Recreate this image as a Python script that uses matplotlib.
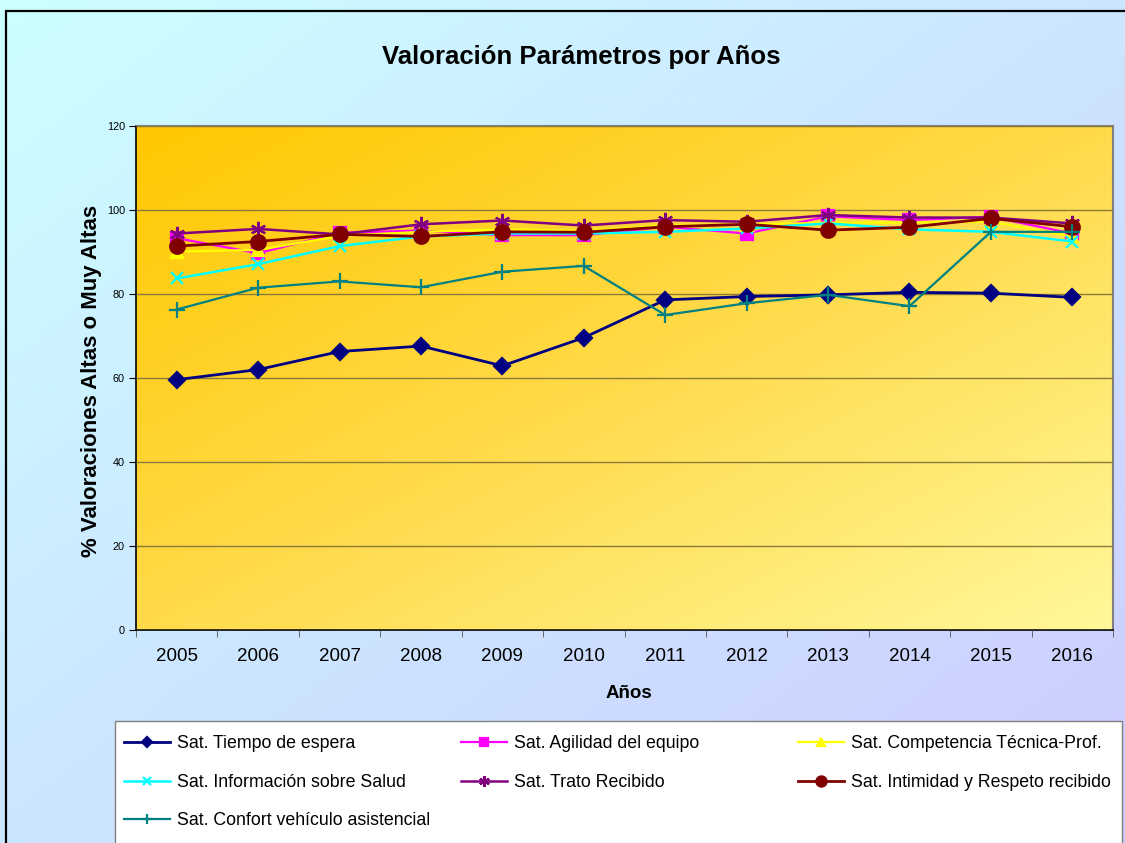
import numpy as np
import matplotlib
matplotlib.use("Agg")
import matplotlib.pyplot as plt
from matplotlib.colors import LinearSegmentedColormap
from matplotlib.patches import Rectangle

plt.rcParams['font.family'] = ['Liberation Sans', 'DejaVu Sans']

years = ['2005', '2006', '2007', '2008', '2009', '2010',
         '2011', '2012', '2013', '2014', '2015', '2016']
tiempo = [59.6, 62.0, 66.3, 67.6, 62.9, 69.6, 78.6, 79.4, 79.8, 80.4, 80.2, 79.2]
agilidad = [93.3, 89.7, 94.6, 95.1, 94.0, 94.0, 96.0, 94.4, 98.5, 97.6, 98.4, 94.4]
competencia = [90.1, 90.5, 93.8, 94.8, 95.4, 95.0, 96.3, 96.5, 97.0, 97.0, 97.2, 93.7]
informacion = [83.7, 87.1, 91.4, 93.7, 94.4, 94.4, 94.8, 95.6, 96.8, 95.4, 94.8, 92.5]
trato = [94.4, 95.5, 94.2, 96.6, 97.5, 96.3, 97.6, 97.2, 98.8, 98.2, 98.2, 96.8]
intimidad = [91.4, 92.5, 94.2, 93.7, 94.8, 94.7, 96.0, 96.6, 95.2, 95.9, 98.0, 96.0]
confort = [76.3, 81.5, 83.0, 81.6, 85.3, 86.7, 75.0, 77.8, 79.8, 77.1, 94.8, 94.8]

labels = ['Sat. Tiempo de espera', 'Sat. Agilidad del equipo',
          'Sat. Competencia Técnica-Prof.', 'Sat. Información sobre Salud',
          'Sat. Trato Recibido', 'Sat. Intimidad y Respeto recibido',
          'Sat. Confort vehículo asistencial']
yticks = [0, 20, 40, 60, 80, 100, 120]

W, H = 1125, 843
fig = plt.figure(figsize=(W / 100, H / 100), dpi=100)

# figure background gradient
bg = fig.add_axes([0, 0, 1, 1], zorder=-10)
gx, gy = np.meshgrid(np.linspace(0, 1, 300), np.linspace(0, 1, 300))
t = (gx + gy) / 2
cm_bg = LinearSegmentedColormap.from_list('bg', ['#CCFFFF', '#CCCCFF'])
bg.imshow(t, cmap=cm_bg, extent=[0, 1, 0, 1], aspect='auto', origin='upper')
bg.set_xlim(0, 1); bg.set_ylim(0, 1)
bg.axis('off')
bg.add_patch(Rectangle((6 / W, -0.05), 1.1, 1 - 11 / H + 0.05, fill=False,
                       edgecolor='black', lw=1.6))

# legend box
bg.add_patch(Rectangle((115 / W, -0.05), (1122 - 115) / W, (843 - 721) / H + 0.05,
                       facecolor='white', edgecolor='#808080', lw=1.0))

ax = fig.add_axes([136 / W, 1 - 630 / H, (1113 - 136) / W, (630 - 126) / H])
cm_pa = LinearSegmentedColormap.from_list('pa', ['#FFC800', '#FFDA4A', '#FFF89A'])
ax.imshow(t, cmap=cm_pa, extent=[0, 1, 0, 1], transform=ax.transAxes,
          aspect='auto', origin='upper', zorder=0)

x = np.arange(len(years))
series = [
    (tiempo, '#000080', 'D', 8, 2.0),
    (agilidad, '#FF00FF', 's', 8, 1.6),
    (competencia, '#FFFF00', '^', 9, 1.6),
    (informacion, '#00FFFF', 'x', 9, 1.8),
    (trato, '#800080', (6, 2, 0), 11, 1.8),
    (intimidad, '#800000', 'o', 10.5, 2.0),
    (confort, '#008080', '+', 11, 1.6),
]
handles = []
for (vals, col, mk, ms, lw), lab in zip(series, labels):
    h, = ax.plot(x, vals, color=col, marker=mk, markersize=ms, lw=lw,
                 markeredgecolor=col, markeredgewidth=1.6, label=lab, zorder=3)
    handles.append(h)

ax.set_xlim(-0.5, len(years) - 0.5)
ax.set_ylim(0, 120)
ax.set_yticks(yticks)
ax.set_yticklabels([str(v) for v in yticks], fontsize=7.8)
ax.set_xticks(x)
ax.set_xticklabels(years, fontsize=13.5)
ax.set_xticks(np.arange(-0.5, len(years)), minor=True)
ax.tick_params(axis='x', which='major', length=0, pad=13)
ax.tick_params(axis='x', which='minor', length=5, direction='out', color='#555555')
ax.tick_params(axis='y', length=5, direction='out', pad=3)
ax.yaxis.grid(True, color='#8c7a3a', lw=1.0, zorder=1)
ax.set_axisbelow(False)
for s in ['top', 'right']:
    ax.spines[s].set_color('#808080')
    ax.spines[s].set_linewidth(1.5)
for s in ['left', 'bottom']:
    ax.spines[s].set_color('black')
    ax.spines[s].set_linewidth(1.2)

fig.text(581 / W, 1 - 57 / H, 'Valoración Parámetros por Años', ha='center',
         va='center', fontsize=18.5, fontweight='bold')
fig.text(92 / W, 1 - 381 / H, '% Valoraciones Altas o Muy Altas', ha='center',
         va='center', rotation=90, fontsize=16, fontweight='bold')
fig.text(629 / W, 1 - 693 / H, 'Años', ha='center', va='center',
         fontsize=13.5, fontweight='bold')

# legend in three columns
col_x = [117, 454, 791]
for c in range(3):
    hs = handles[c::3]
    ls = labels[c::3]
    fig.legend(hs, ls, loc='upper left',
               bbox_to_anchor=(col_x[c] / W, 1 - 728 / H),
               frameon=False, fontsize=12.8, handlelength=2.6,
               handletextpad=0.4, labelspacing=1.22, borderaxespad=0,
               markerscale=0.7)

fig.savefig('out.png', dpi=100)
